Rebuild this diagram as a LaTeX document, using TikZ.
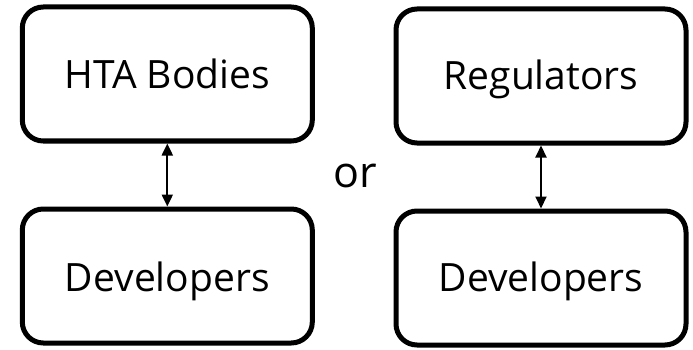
\documentclass[tikz,border=0pt]{standalone}
\usepackage{fontspec}
\setmainfont{Open Sans}
\usetikzlibrary{arrows.meta}
\begin{document}
\begin{tikzpicture}[x=1pt,y=-1pt,
  box/.style={draw=black,line width=5pt,rounded corners=21pt,minimum width=290pt,minimum height=134pt,inner sep=0pt,text depth=0pt,text height=#1,font=\fontsize{39}{44}\selectfont},
  link/.style={line width=2pt,{Triangle[length=12pt,width=11pt]}-{Triangle[length=12pt,width=11pt]}}]
\useasboundingbox (0,0) rectangle (693,350);
\node[box=30pt] (hta) at (167.3,74) {HTA Bodies};
\node[box=31pt] (dev1) at (167.3,276) {Developers};
\node[box=27pt] (reg) at (541,76) {Regulators};
\node[box=27pt] (dev2) at (541,278) {Developers};
\node[font=\fontsize{43}{48}\selectfont,anchor=base,inner sep=0pt] (or) at (355,187) {or};
\draw[link] (hta.south) -- (dev1.north);
\draw[link] (reg.south) -- (dev2.north);
\end{tikzpicture}
\end{document}
